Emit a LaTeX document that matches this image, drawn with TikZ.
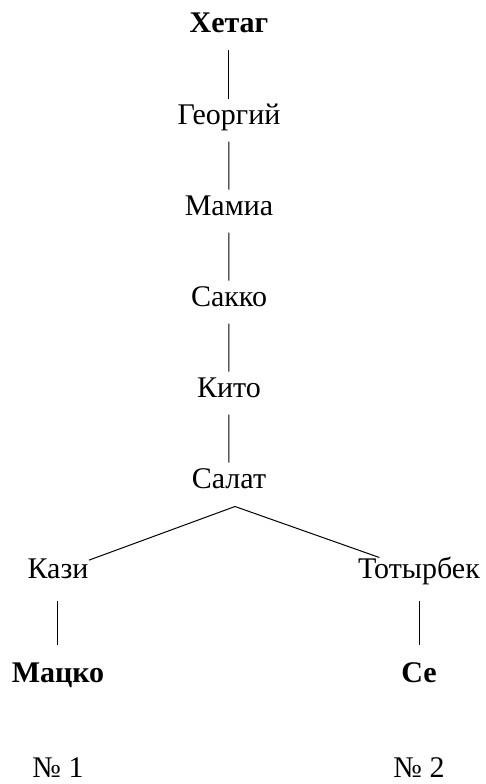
\documentclass[tikz,border=0pt]{standalone}
\usepackage{fontspec}
\setmainfont{Liberation Serif}
\usetikzlibrary{positioning}

\begin{document}
\begin{tikzpicture}[x=1pt,y=1pt,line width=1pt,
    every node/.style={font=\fontsize{30}{36}\selectfont,inner sep=0pt,text height=20pt,text depth=7pt},
    level distance=91pt,
    edge from parent/.style={draw,shorten <=10pt,shorten >=5pt},
    level 6/.style={level distance=90pt,sibling distance=361pt,
      edge from parent/.style={draw},
      edge from parent path={([xshift=6pt,yshift=-11pt]\tikzparentnode.south) -- (\tikzchildnode)}},
    level 7/.style={level distance=104pt,
      edge from parent/.style={draw,shorten <=15pt,shorten >=17pt},
      edge from parent path={(\tikzparentnode) -- (\tikzchildnode)}}]
        \useasboundingbox (-229,26.5) rectangle (257,-757.5);
        \node (khetag) {\bfseries Хетаг}
        child {node (georgy) {Георгий}
            child {node (mamia) {Мамиа}
                child {node (sakko) {Сакко}
                    child {node (kito) {Кито}
                        child {node (salat) {Салат}
                            child[xshift=9.5pt] {node (kazi) {Кази}
                                child {node (matsko) {\bfseries Мацко}}}
                            child[xshift=9.5pt] {node (totyrbek) {Тотырбек}
                                child {node (se) {\bfseries Се}}}}}}}};
        \node (no1) [below=67pt of matsko,text depth=0pt] {№ 1};
        \node (no2) [below=67pt of se,text depth=0pt] {№ 2};
      \end{tikzpicture}
\end{document}
